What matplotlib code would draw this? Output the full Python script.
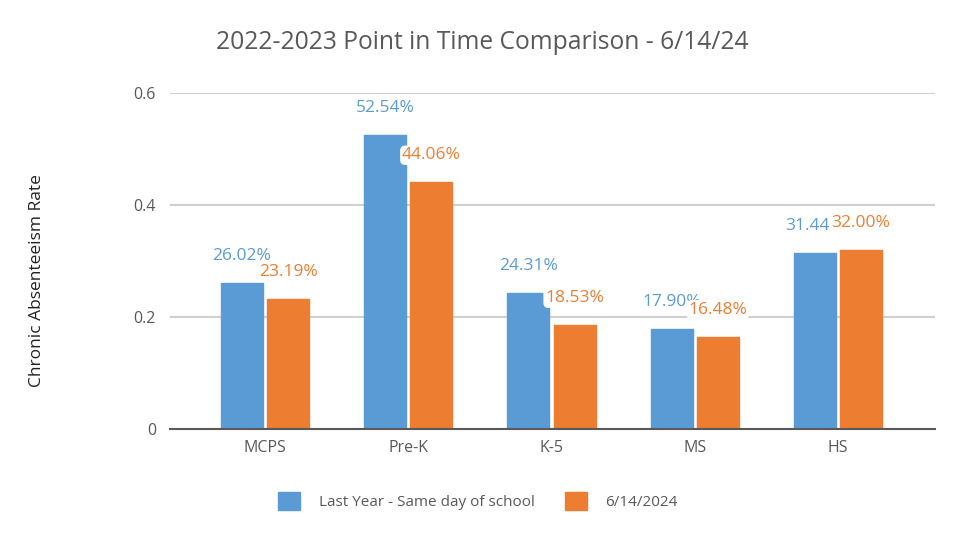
import matplotlib
matplotlib.use("Agg")
import matplotlib.pyplot as plt
import numpy as np
from matplotlib.patches import Patch

categories = ["MCPS", "Pre-K", "K-5", "MS", "HS"]
last_year = [0.2602, 0.5254, 0.2431, 0.1790, 0.3144]
current = [0.2319, 0.4406, 0.1853, 0.1648, 0.3200]
series_names = ["Last Year - Same day of school", "6/14/2024"]
yticks = [0, 0.2, 0.4, 0.6]
ytick_labels = ["0", "0.2", "0.4", "0.6"]

BLUE = "#5B9BD5"
ORANGE = "#ED7D31"
GRAY = "#595959"

plt.rcParams['font.family'] = ['Open Sans', 'DejaVu Sans']

fig = plt.figure(figsize=(9.55, 5.46), dpi=100)
ax = fig.add_axes([170/955, 1-429/546, (935-170)/955, (429-93)/546])

x = np.arange(len(categories))
w = 0.293
off = 0.161
b1 = ax.bar(x - off, last_year, w, color=BLUE, edgecolor=BLUE, linewidth=1, joinstyle='round', zorder=3)
b2 = ax.bar(x + off, current, w, color=ORANGE, edgecolor=ORANGE, linewidth=1, joinstyle='round', zorder=3)

ax.set_ylim(0, 0.6)
ax.set_xlim(-0.663, 4.677)
ax.set_yticks(yticks)
ax.set_yticklabels(ytick_labels)
ax.set_xticks(x)
ax.set_xticklabels(categories)
ax.tick_params(axis='both', length=0, labelsize=11.5, colors=GRAY, pad=10)
ax.tick_params(axis='x', pad=8)
for s in ["top", "right", "left"]:
    ax.spines[s].set_visible(False)
ax.spines["bottom"].set_color(GRAY)
ax.spines["bottom"].set_linewidth(1.5)
ax.spines["bottom"].set_zorder(4)
ax.yaxis.grid(True, color="#D0D0D0", linewidth=1.5, zorder=0)
ax.set_axisbelow(True)

def lab(xs, vals, color):
    for xi, v in zip(xs, vals):
        ax.annotate(f"{v*100:.2f}%", (xi, v), xytext=(0, 27), textcoords="offset pixels",
                    ha="center", va="center", fontsize=12.5, color=color, zorder=5,
                    bbox=dict(boxstyle="round,pad=0.1,rounding_size=0.3", fc="white", ec="none"))

lab(x - off, last_year, BLUE)
lab(x + off, current, ORANGE)

fig.text(482/955, 1-43/546, "2022-2023 Point in Time Comparison - 6/14/24", ha="center", va="center",
         fontsize=17.7, color=GRAY)
fig.text(37/955, 1-281/546, "Chronic Absenteeism Rate", rotation=90, ha="center", va="center",
         fontsize=12.5, color="#222222")

handles = [Patch(facecolor=BLUE, edgecolor=BLUE), Patch(facecolor=ORANGE, edgecolor=ORANGE)]
fig.legend(handles, series_names, loc="center", bbox_to_anchor=(478/955, 1-501/546), ncol=2,
           frameon=False, fontsize=11, labelcolor=GRAY, handlelength=1.45, handleheight=1.45,
           columnspacing=2.0, handletextpad=1.2)

fig.savefig("out.png", dpi=100)
